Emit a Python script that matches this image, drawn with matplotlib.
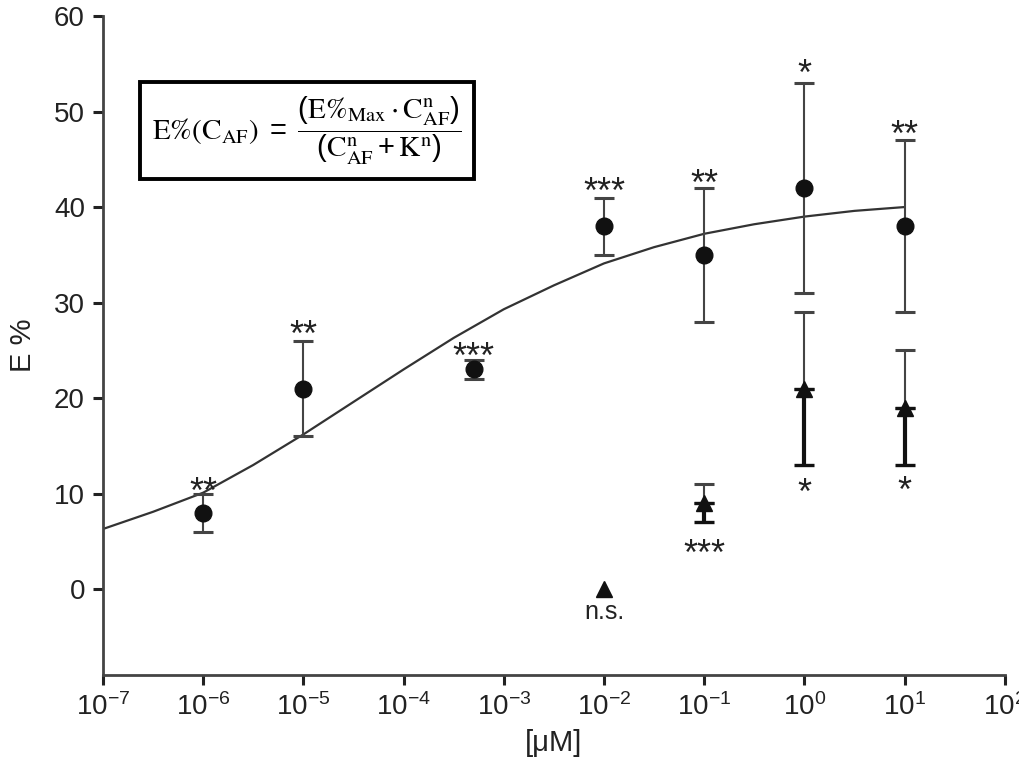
import matplotlib
matplotlib.use("Agg")
import matplotlib.pyplot as plt

plt.rcParams['font.family'] = ['Liberation Sans', 'DejaVu Sans']
plt.rcParams['mathtext.default'] = 'regular'

# circles: mean E% with lower / upper error limits
circ_x = [1e-6, 1e-5, 5e-4, 1e-2, 1e-1, 1e0, 1e1]
circ_y = [8, 21, 23, 38, 35, 42, 38]
circ_lo = [6, 16, 22, 35, 28, 31, 29]
circ_hi = [10, 26, 24, 41, 42, 53, 47]
circ_sig = ['**', '**', '***', '***', '**', '*', '**']
circ_sig_y = [11.2, 27.6, 25.3, 42.6, 43.4, 54.9, 48.6]

# triangles
tri_x = [1e-2, 1e-1, 1e0, 1e1]
tri_y = [0, 9, 21, 19]
tri_lo = [0, 7, 13, 13]
tri_hi = [0, 11, 29, 25]
tri_sig = ['n.s.', '***', '*', '*']
tri_sig_y = [-2.4, 4.7, 11.1, 11.3]

# fitted curve, every half decade
fit_x = [1e-7, 3.16e-7, 1e-6, 3.16e-6, 1e-5, 3.16e-5, 1e-4, 3.16e-4, 1e-3,
         3.16e-3, 1e-2, 3.16e-2, 1e-1, 3.16e-1, 1e0, 3.16e0, 1e1]
fit_y = [6.3, 8.1, 10.1, 13.0, 16.2, 19.6, 23.0, 26.3, 29.3,
         31.8, 34.1, 35.8, 37.2, 38.2, 39.0, 39.6, 40.0]

x_ticks = [1e-7, 1e-6, 1e-5, 1e-4, 1e-3, 1e-2, 1e-1, 1e0, 1e1, 1e2]
x_ticklabels = ['$10^{-7}$', '$10^{-6}$', '$10^{-5}$', '$10^{-4}$', '$10^{-3}$',
                '$10^{-2}$', '$10^{-1}$', '$10^{0}$', '$10^{1}$', '$10^{2}$']
y_ticks = [0, 10, 20, 30, 40, 50, 60]

txt_col = '#222222'


def _sig_label(ax, x, y, s):
   # y is where the glyphs' visual centre should sit
   if s == 'n.s.':
      fs, k = 18, 0.26
   else:
      fs, k = 26, 0.57
   ax.annotate(s, (x, y), xytext=(0, -k * fs), textcoords='offset points',
               ha='center', va='baseline', fontsize=fs, color=txt_col)


fig = plt.figure(figsize=(10.2, 7.62), dpi=100)
ax = fig.add_axes([0.101, 0.114, 0.884, 0.865])

ax.plot(fit_x, fit_y, color='#333333', lw=1.6, zorder=2)

err_col = '#444444'
for x, y, lo, hi in zip(circ_x, circ_y, circ_lo, circ_hi):
   ax.errorbar([x], [y], yerr=[[y - lo], [hi - y]], fmt='none', ecolor=err_col,
               elinewidth=1.5, capsize=7, capthick=2.2, zorder=3)
ax.plot(circ_x, circ_y, 'o', color='#111111', ms=12, zorder=4)

for x, y, lo, hi in zip(tri_x, tri_y, tri_lo, tri_hi):
   if hi > y:
      # upper half thin, lower half bold as in the original
      ax.errorbar([x], [y], yerr=[[0], [hi - y]], fmt='none', ecolor=err_col,
                  elinewidth=1.5, capsize=7, capthick=2.2, zorder=3)
      ax.errorbar([x], [y], yerr=[[y - lo], [0]], fmt='none', ecolor='#111111',
                  elinewidth=3, capsize=7, capthick=2.4, zorder=3)
ax.plot(tri_x, tri_y, '^', color='#111111', ms=12, zorder=4)

for x, y, s in zip(circ_x, circ_sig_y, circ_sig):
   _sig_label(ax, x, y, s)
for x, y, s in zip(tri_x, tri_sig_y, tri_sig):
   _sig_label(ax, x, y, s)

eq = (r'$\mathrm{E\%(C_{AF})}\ =\ '
      r'\dfrac{(\mathrm{E\%_{Max}} \cdot \mathrm{C_{AF}^{n}})}'
      r'{(\mathrm{C_{AF}^{n}} + \mathrm{K^{n}})}$')
ax.text(0.226, 0.826, eq, transform=ax.transAxes, ha='center', va='center',
        fontsize=21, math_fontfamily='stix',
        bbox=dict(boxstyle='square,pad=0.42', fc='white', ec='black', lw=2.8))

ax.set_xscale('log')
ax.set_xlim(1e-7, 1e2)
ax.set_ylim(-9, 60)
ax.set_xticks(x_ticks)
ax.set_xticklabels(x_ticklabels)
ax.minorticks_off()
ax.set_yticks(y_ticks)

for side in ['top', 'right']:
   ax.spines[side].set_visible(False)
for side in ['left', 'bottom']:
   ax.spines[side].set_color('#444444')
   ax.spines[side].set_linewidth(2)
ax.tick_params(axis='both', length=7, width=2.2, color=txt_col,
               labelsize=20, labelcolor=txt_col, pad=6)

ax.set_ylabel('E %', fontsize=21, color=txt_col, labelpad=12)
ax.set_xlabel('[\u03bcM]', fontsize=21, color=txt_col, labelpad=6)

fig.savefig('out.png', dpi=100)
